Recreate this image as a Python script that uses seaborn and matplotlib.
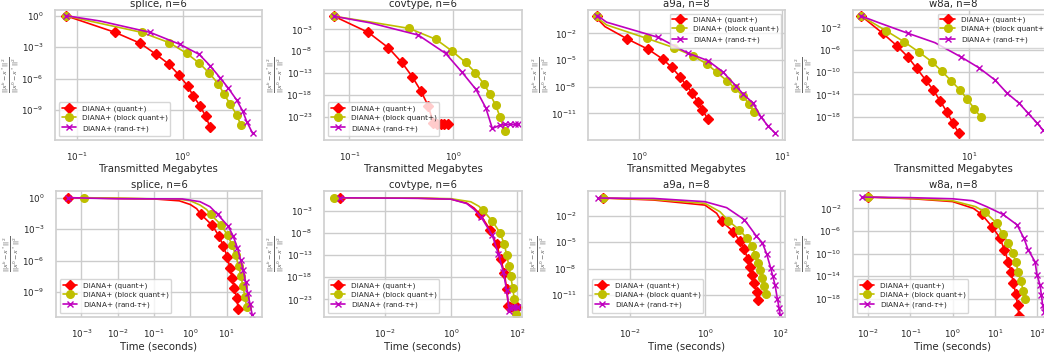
import numpy as np
import matplotlib
matplotlib.use("Agg")
import matplotlib.pyplot as plt
import seaborn as sns
from matplotlib.lines import Line2D
from matplotlib.ticker import FixedLocator, NullLocator, LogFormatterSciNotation

# ---------------- data (y stored as log10 of relative error) ----------------
LABELS = ["DIANA+ (quant+)", "DIANA+ (block quant+)", r"DIANA+ (rand-$\tau$+)"]
TITLES = ["splice, n=6", "covtype, n=6", "a9a, n=8", "w8a, n=8"]

# splice
SPLICE_QUANT_LOGY = [0, -1.59, -2.64, -3.66, -4.61, -5.66, -6.71, -7.67, -8.62, -9.61, -10.62]
SPLICE_BLOCK_LOGY = [0, -1.59, -2.58, -3.59, -4.55, -5.50, -6.52, -7.47, -8.43, -9.45, -10.43]
SPLICE_RAND_LOGY = [0, -1.59, -2.74, -3.69, -4.77, -5.92, -6.93, -8.05, -9.10, -10.11, -11.23]
SPLICE_MB_QUANT_X = [0.0787, 0.230, 0.399, 0.556, 0.738, 0.923, 1.114, 1.26, 1.46, 1.65, 1.81]
SPLICE_MB_BLOCK_X = [0.0787, 0.410, 0.748, 1.09, 1.44, 1.79, 2.17, 2.45, 2.80, 3.23, 3.53]
SPLICE_MB_RAND_X = [0.0787, 0.492, 0.944, 1.43, 1.81, 2.25, 2.70, 3.23, 3.68, 4.02, 4.57]
SPLICE_MB_BLOCK_BEND = ([0.166], [-0.73])
SPLICE_MB_RAND_BEND = ([0.166], [-0.51])
SPLICE_T_QUANT_X = [4.29e-4, 1.96, 4.04, 6.17, 8.13, 10.5, 12.4, 14.4, 16.3, 19.0, 21.1]
SPLICE_T_BLOCK_X = [1.19e-3, 3.63, 7.0, 10.7, 14.4, 17.8, 21.5, 24.9, 28.3, 32.1, 35.8]
SPLICE_T_RAND_X = [4.29e-4, 5.66, 11.2, 15.3, 19.8, 24.4, 29.0, 33.6, 38.1, 44.2, 51.3]
SPLICE_T_QUANT_BEND = ([0.003, 0.1, 0.5, 1.0, 1.5], [-0.05, -0.12, -0.3, -0.65, -1.05])
SPLICE_T_BLOCK_BEND = ([0.01, 0.5, 1.0, 1.85, 2.8], [-0.05, -0.15, -0.29, -0.7, -1.12])
SPLICE_T_RAND_BEND = ([0.01, 0.6, 1.85, 3.5], [-0.1, -0.12, -0.38, -0.86])

# covtype
COV_QUANT_LOGY = [0, -3.69, -7.2, -10.56, -13.84, -17.05, -20.56, -24.5, -24.75, -24.75, -24.75, -24.75]
COV_BLOCK_LOGY = [0, -2.77, -5.29, -7.89, -10.56, -12.92, -15.52, -17.81, -20.33, -23.0, -26.28]
COV_RAND_LOGY = [0, -4.30, -8.50, -12.69, -16.74, -20.94, -25.67, -24.9, -24.75, -24.75, -24.75, -24.75]
COV_MB_QUANT_X = [0.0712, 0.152, 0.237, 0.319, 0.403, 0.486, 0.575, 0.643, 0.70, 0.76, 0.82, 0.88]
COV_MB_BLOCK_X = [0.0712, 0.375, 0.681, 0.963, 1.31, 1.63, 1.97, 2.25, 2.55, 2.81, 3.14]
COV_MB_RAND_X = [0.0712, 0.460, 0.843, 1.20, 1.65, 2.05, 2.37, 2.81, 3.14, 3.51, 3.92, 4.22]
COV_MB_BLOCK_BEND = ([0.158], [-1.3])
COV_MB_RAND_BEND = ([0.158], [-1.5])
COV_T_QUANT_X = [4.25e-4, 7.6, 15.3, 24.4, 32.3, 41.7, 49.1, 55.2, 61.7, 74.1, 87.1, 104.7]
COV_T_BLOCK_X = [2.79e-4, 9.2, 18.0, 30.8, 41.7, 49.1, 57.8, 65.0, 74.7, 84.0, 92.2]
COV_T_RAND_X = [4.25e-4, 8.15, 18.0, 27.4, 38.9, 49.1, 59.2, 63.0, 69.7, 82.0, 98.9, 111.0]
COV_T_QUANT_BEND = ([0.1, 1.0, 3.0, 5.0], [-0.1, -0.3, -1.2, -2.3])
COV_T_BLOCK_BEND = ([0.1, 1.0, 4.0, 7.0], [-0.05, -0.2, -0.9, -1.9])
COV_T_RAND_BEND = ([0.1, 1.0, 3.0, 5.0], [-0.1, -0.3, -1.3, -2.6])

# a9a
A9A_QUANT_LOGY = [0, -2.64, -3.80, -4.88, -5.82, -6.87, -7.77, -8.74, -9.68, -10.61, -11.59]
A9A_BLOCK_LOGY = [0, -2.56, -3.61, -4.51, -5.45, -6.40, -7.34, -8.16, -9.04, -9.94, -10.84]
A9A_RAND_LOGY = [0, -2.45, -4.25, -5.07, -6.34, -7.92, -8.81, -9.83, -11.40, -12.41, -13.20]
A9A_MB_QUANT_X = [0.512, 0.830, 1.16, 1.46, 1.69, 1.93, 2.12, 2.36, 2.57, 2.77, 3.01]
A9A_MB_BLOCK_X = [0.512, 1.13, 1.75, 2.37, 2.98, 3.50, 4.11, 4.67, 5.32, 5.85, 6.35]
A9A_MB_RAND_X = [0.512, 1.36, 2.21, 3.03, 3.85, 4.75, 5.32, 6.24, 7.10, 7.94, 8.89]
A9A_MB_QUANT_BEND = ([0.534, 0.579], [-0.67, -1.25])
A9A_MB_BLOCK_BEND = ([0.534, 0.594], [-0.49, -1.06])
A9A_MB_RAND_BEND = ([0.594], [-0.75])
A9A_T_QUANT_X = [1.95e-3, 2.78, 5.70, 8.58, 11.2, 13.7, 15.8, 18.3, 20.7, 23.9, 25.4]
A9A_T_BLOCK_X = [1.95e-3, 4.19, 8.24, 12.9, 18.3, 21.5, 25.4, 29.3, 33.8, 38.2, 41.5]
A9A_T_RAND_X = [1.43e-3, 11.2, 22.9, 33.8, 44.1, 56.3, 63.7, 73.5, 84.9, 94.0, 100.0]
A9A_T_QUANT_BEND = ([0.042, 1.0, 2.05], [-0.22, -0.8, -1.73])
A9A_T_BLOCK_BEND = ([0.042, 1.0, 2.51], [-0.15, -0.6, -1.55])
A9A_T_RAND_BEND = ([0.042, 1.0, 3.78], [-0.04, -0.41, -1.09])

# w8a
W8A_QUANT_LOGY = [0, -3.07, -5.28, -7.25, -9.34, -11.43, -13.22, -15.13, -17.10, -19.07, -20.99]
W8A_BLOCK_LOGY = [0, -2.66, -4.63, -6.48, -8.15, -9.82, -11.55, -13.22, -14.90, -16.57, -18.12]
W8A_MB_RAND_LOGY = [0, -3.07, -7.31, -9.28, -11.43, -13.76, -15.55, -17.34, -19.13, -20.39, -21.6]
W8A_T_RAND_LOGY = [0, -3.07, -4.9, -7.31, -9.28, -11.43, -13.76, -15.55, -17.34, -19.13, -20.39, -21.6]
W8A_MB_QUANT_X = [1.92, 2.66, 3.30, 3.90, 4.48, 5.14, 5.78, 6.41, 7.10, 7.78, 8.58]
W8A_MB_BLOCK_X = [1.92, 2.82, 3.71, 4.67, 5.64, 6.57, 7.59, 8.71, 9.75, 10.85, 12.0]
W8A_MB_RAND_X = [1.92, 3.92, 8.85, 11.7, 14.9, 17.9, 21.5, 24.7, 28.4, 31.1, 34.7]
W8A_MB_RAND_BEND = ([2.55, 5.93], [-1.25, -4.75])
W8A_T_QUANT_X = [0.0101, 4.86, 8.68, 13.2, 16.7, 20.8, 24.0, 27.3, 31.0, 34.5, 37.2]
W8A_T_BLOCK_X = [0.0101, 5.82, 11.0, 15.2, 20.8, 26.3, 31.0, 35.8, 40.7, 47.1, 51.5]
W8A_T_RAND_X = [7.0e-3, 15.5, 33.3, 48.8, 60.7, 88.9, 99.1, 117, 126, 135, 145, 159]
W8A_T_QUANT_BEND = ([0.117, 1.0, 3.1], [-0.3, -0.8, -2.0])
W8A_T_BLOCK_BEND = ([0.117, 1.0, 3.5], [-0.25, -0.65, -1.7])
W8A_T_RAND_BEND = ([0.1, 1.0, 3.0, 6.4], [-0.1, -0.3, -0.65, -1.7])

NOBEND = ([], [])

# ---------------- styling ----------------
sns.set_theme(style="whitegrid")
plt.rcParams["font.family"] = ["DejaVu Sans"]
plt.rcParams["mathtext.fontset"] = "dejavusans"

COLORS = ["#ff0000", "#bfbf00", "#bf00bf"]
MARKERS = ["D", "o", "x"]
MSIZES = [5.0, 5.5, 5.0]

fig = plt.figure(figsize=(10.44, 3.53), dpi=100)
W, H = 1044.0, 353.0


def add_ax(l, t, r, b):
    ax = fig.add_axes([l / W, 1 - b / H, (r - l) / W, (b - t) / H])
    ax._px_width = r - l
    return ax


def draw(ax, series, xlim, ylim, xt, yt, title, xlabel, loc, ylab_off):
    ax.set_xscale("log")
    ax.set_yscale("log")
    for k, (mx, my, bend) in enumerate(series):
        pts = [(x, y, True) for x, y in zip(mx, my)] + [(x, y, False) for x, y in zip(bend[0], bend[1])]
        pts.sort(key=lambda p: p[0])
        xs = np.array([p[0] for p in pts])
        ys = 10.0 ** np.array([p[1] for p in pts], dtype=float)
        idx = [i for i, p in enumerate(pts) if p[2]]
        sns.lineplot(x=xs, y=ys, ax=ax, color=COLORS[k], marker=MARKERS[k], markevery=idx,
                     sort=False, estimator=None, linewidth=1.2, markersize=MSIZES[k],
                     markeredgecolor=COLORS[k], markeredgewidth=1.0, legend=False)
    ax.set_xlim(10.0 ** xlim[0], 10.0 ** xlim[1])
    ax.set_ylim(10.0 ** ylim[1], 10.0 ** ylim[0])
    ax.xaxis.set_major_locator(FixedLocator(10.0 ** np.array(xt, dtype=float)))
    ax.yaxis.set_major_locator(FixedLocator(10.0 ** np.array(yt, dtype=float)))
    ax.xaxis.set_major_formatter(LogFormatterSciNotation())
    ax.yaxis.set_major_formatter(LogFormatterSciNotation())
    ax.xaxis.set_minor_locator(NullLocator())
    ax.yaxis.set_minor_locator(NullLocator())
    ax.tick_params(labelsize=6.3, colors="#262626")
    ax.tick_params(axis="x", pad=1.5)
    ax.tick_params(axis="y", pad=2.5)
    ax.set_title(title, fontsize=7.3, pad=2.5, color="#262626")
    ax.set_xlabel(xlabel, fontsize=7.3, labelpad=1, color="#262626")
    ax.set_ylabel(r"$\frac{||x^k - x^*||^2}{||x^0 - x^*||^2}$", fontsize=6.5, color="#666666")
    ax.yaxis.set_label_coords(-ylab_off / ax._px_width, 0.5)
    for s in ax.spines.values():
        s.set_color("#d0d0d0")
    handles = [Line2D([], [], color=COLORS[k], marker=MARKERS[k], markersize=MSIZES[k],
                      markeredgecolor=COLORS[k], markeredgewidth=1.0, linewidth=1.2)
               for k in range(3)]
    ax.legend(handles, LABELS, loc=loc, fontsize=5.2, handlelength=2.0, borderpad=0.4,
              labelspacing=0.35, framealpha=0.8)


top = (10, 140)
bot = (191, 317)
lefts_right = [(55, 262), (324, 522), (588, 785), (853, 1053)]
lefts_right_b = [(56, 262), (324, 522), (588, 785), (853, 1053)]

XL_MB = "Transmitted Megabytes"
XL_T = "Time (seconds)"

# top row
ax = add_ax(lefts_right[0][0], top[0], lefts_right[0][1], top[1])
draw(ax, [(SPLICE_MB_QUANT_X, SPLICE_QUANT_LOGY, NOBEND),
          (SPLICE_MB_BLOCK_X, SPLICE_BLOCK_LOGY, SPLICE_MB_BLOCK_BEND),
          (SPLICE_MB_RAND_X, SPLICE_RAND_LOGY, SPLICE_MB_RAND_BEND)],
     (-1.204, 0.748), (0.54, -11.86), [-1, 0], [0, -3, -6, -9], TITLES[0], XL_MB, "lower left", 33.5)

ax = add_ax(lefts_right[1][0], top[0], lefts_right[1][1], top[1])
draw(ax, [(COV_MB_QUANT_X, COV_QUANT_LOGY, NOBEND),
          (COV_MB_BLOCK_X, COV_BLOCK_LOGY, COV_MB_BLOCK_BEND),
          (COV_MB_RAND_X, COV_RAND_LOGY, COV_MB_RAND_BEND)],
     (-1.244, 0.660), (1.43, -28.3), [-1, 0], [-3, -8, -13, -18, -23], TITLES[1], XL_MB, "lower left", 37)

ax = add_ax(lefts_right[2][0], top[0], lefts_right[2][1], top[1])
draw(ax, [(A9A_MB_QUANT_X, A9A_QUANT_LOGY, A9A_MB_QUANT_BEND),
          (A9A_MB_BLOCK_X, A9A_BLOCK_LOGY, A9A_MB_BLOCK_BEND),
          (A9A_MB_RAND_X, A9A_RAND_LOGY, A9A_MB_RAND_BEND)],
     (-0.356, 1.019), (0.62, -13.99), [0, 1], [-2, -5, -8, -11], TITLES[2], XL_MB, "upper right", 36)

ax = add_ax(lefts_right[3][0], top[0], lefts_right[3][1], top[1])
draw(ax, [(W8A_MB_QUANT_X, W8A_QUANT_LOGY, NOBEND),
          (W8A_MB_BLOCK_X, W8A_BLOCK_LOGY, NOBEND),
          (W8A_MB_RAND_X, W8A_MB_RAND_LOGY, W8A_MB_RAND_BEND)],
     (0.227, 1.56), (1.10, -22.18), [1], [-2, -6, -10, -14, -18], TITLES[3], XL_MB, "upper right", 38)

# bottom row
ax = add_ax(lefts_right_b[0][0], bot[0], lefts_right_b[0][1], bot[1])
draw(ax, [(SPLICE_T_QUANT_X, SPLICE_QUANT_LOGY, SPLICE_T_QUANT_BEND),
          (SPLICE_T_BLOCK_X, SPLICE_BLOCK_LOGY, SPLICE_T_BLOCK_BEND),
          (SPLICE_T_RAND_X, SPLICE_RAND_LOGY, SPLICE_T_RAND_BEND)],
     (-3.70, 1.977), (0.638, -11.39), [-3, -2, -1, 0, 1], [0, -3, -6, -9], TITLES[0], XL_T, "lower left", 33)

ax = add_ax(lefts_right_b[1][0], bot[0], lefts_right_b[1][1], bot[1])
draw(ax, [(COV_T_QUANT_X, COV_QUANT_LOGY, COV_T_QUANT_BEND),
          (COV_T_BLOCK_X, COV_BLOCK_LOGY, COV_T_BLOCK_BEND),
          (COV_T_RAND_X, COV_RAND_LOGY, COV_T_RAND_BEND)],
     (-3.858, 2.157), (1.545, -27.0), [-2, 0, 2], [-3, -8, -13, -18, -23], TITLES[1], XL_T, "lower left", 37)

ax = add_ax(lefts_right_b[2][0], bot[0], lefts_right_b[2][1], bot[1])
draw(ax, [(A9A_T_QUANT_X, A9A_QUANT_LOGY, A9A_T_QUANT_BEND),
          (A9A_T_BLOCK_X, A9A_BLOCK_LOGY, A9A_T_BLOCK_BEND),
          (A9A_T_RAND_X, A9A_RAND_LOGY, A9A_T_RAND_BEND)],
     (-3.12, 2.133), (0.80, -13.48), [-2, 0, 2], [-2, -5, -8, -11], TITLES[2], XL_T, "lower left", 38)

ax = add_ax(lefts_right_b[3][0], bot[0], lefts_right_b[3][1], bot[1])
draw(ax, [(W8A_T_QUANT_X, W8A_QUANT_LOGY, W8A_T_QUANT_BEND),
          (W8A_T_BLOCK_X, W8A_BLOCK_LOGY, W8A_T_BLOCK_BEND),
          (W8A_T_RAND_X, W8A_T_RAND_LOGY, W8A_T_RAND_BEND)],
     (-2.359, 2.375), (1.077, -21.23), [-2, -1, 0, 1, 2], [-2, -6, -10, -14, -18], TITLES[3], XL_T, "lower left", 38)

fig.savefig("out.png", dpi=100)
